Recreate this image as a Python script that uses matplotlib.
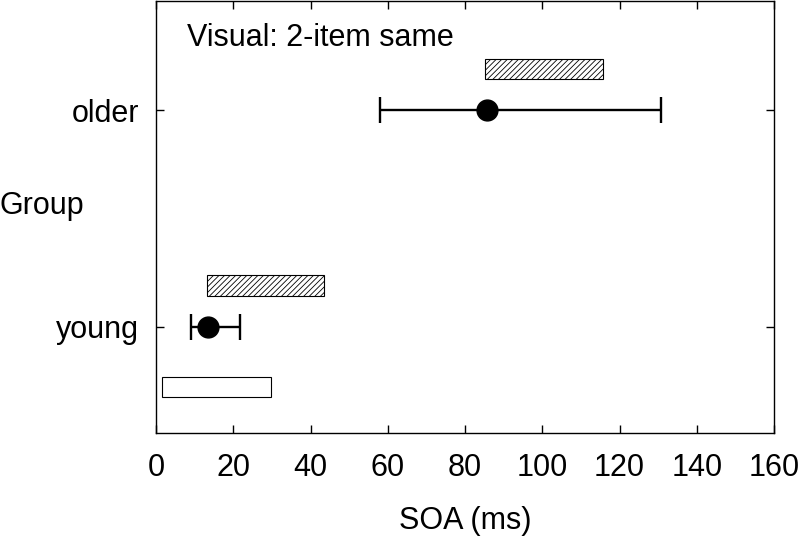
import matplotlib
matplotlib.use("Agg")
import matplotlib.pyplot as plt

plt.rcParams['font.family'] = ['Liberation Sans', 'DejaVu Sans']
plt.rcParams['hatch.linewidth'] = 0.6

groups = ["young", "older"]
point_vals = [13.4, 85.8]
err_low = [9.0, 57.9]
err_high = [21.7, 130.7]
hatch_start = [13.3, 85.3]
hatch_end = [43.4, 115.6]
white_start = [1.6]
white_end = [29.8]

fig = plt.figure(figsize=(8.0, 5.36), dpi=100)
ax = fig.add_axes([0.195, 0.192, 0.7725, 0.806])

ypos = list(range(len(groups)))

# hatched bars
for i in ypos:
    ax.barh(i + 0.192, hatch_end[i] - hatch_start[i], left=hatch_start[i], height=0.095,
            color='white', edgecolor='black', linewidth=0.8, hatch='//////')

# white bar under young
ax.barh(0 - 0.279, white_end[0] - white_start[0], left=white_start[0], height=0.092,
        color='white', edgecolor='black', linewidth=0.8)

# points with error bars
for i in ypos:
    ax.errorbar(point_vals[i], i,
                xerr=[[point_vals[i] - err_low[i]], [err_high[i] - point_vals[i]]],
                fmt='o', color='black', markersize=15, elinewidth=1.7,
                capsize=9.5, capthick=1.7, zorder=5)

ax.set_xlim(0, 160)
ax.set_ylim(-0.49, 1.505)
ax.set_xticks(range(0, 161, 20))
ax.set_yticks(ypos)
ax.set_yticklabels(groups)
ax.tick_params(direction='in', length=6, width=1, top=True, right=True,
               labelsize=22, pad=12)
ax.tick_params(axis='x', pad=14)
for s in ax.spines.values():
    s.set_linewidth(1)

ax.set_xlabel("SOA (ms)", fontsize=22, labelpad=17)
ax.text(-156/3.8625, 0.56, "Group", fontsize=22, ha='left', va='center',
        transform=ax.transData)
ax.text(8.0, 1.333, "Visual: 2-item same", fontsize=22, ha='left', va='center',
        transform=ax.transData)

fig.savefig("out.png", dpi=100)
